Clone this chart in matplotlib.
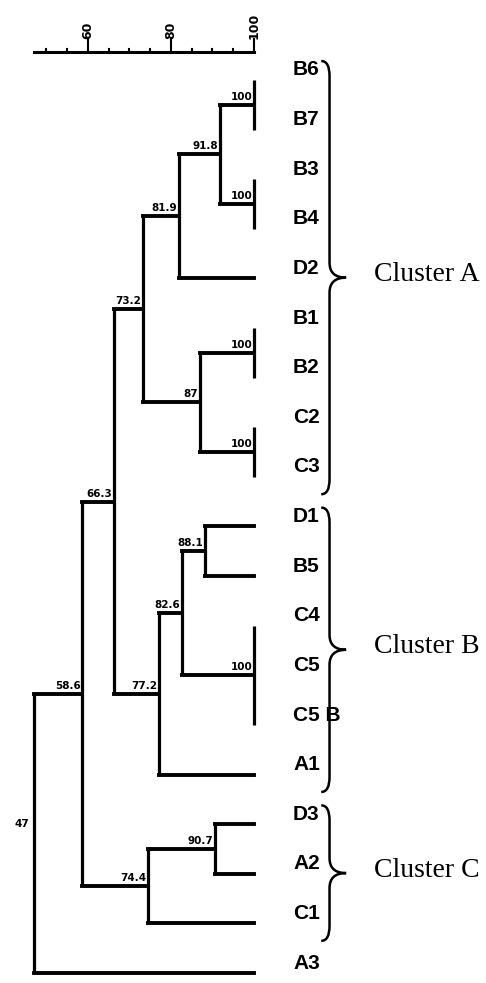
import matplotlib.pyplot as plt
from matplotlib.path import Path
from matplotlib.patches import PathPatch

# leaf order, top to bottom
leaves = ['B6', 'B7', 'B3', 'B4', 'D2', 'B1', 'B2', 'C2', 'C3',
          'D1', 'B5', 'C4', 'C5', 'C5 B', 'A1', 'D3', 'A2', 'C1', 'A3']

# internal nodes: children and similarity (%)
node_names = ['n1', 'n2', 'n3', 'n4', 'n5', 'n6', 'n7', 'n8', 'n9',
              'n10', 'n11', 'n12', 'n13', 'n14', 'n15', 'n16', 'n17']
node_children = [['B6', 'B7'], ['B3', 'B4'], ['n1', 'n2'], ['n3', 'D2'],
                 ['B1', 'B2'], ['C2', 'C3'], ['n5', 'n6'], ['n4', 'n7'],
                 ['D1', 'B5'], ['C4', 'C5', 'C5 B'], ['n9', 'n10'], ['n11', 'A1'],
                 ['n8', 'n12'], ['D3', 'A2'], ['n14', 'C1'], ['n13', 'n15'],
                 ['n16', 'A3']]
node_sim = [100, 100, 91.8, 81.9, 100, 100, 87, 73.2, 88.1,
            100, 82.6, 77.2, 66.3, 90.7, 74.4, 58.6, 47]

# clusters: name, first leaf, last leaf
cluster_names = ['Cluster A', 'Cluster B', 'Cluster C']
cluster_first = ['B6', 'D1', 'D3']
cluster_last = ['C3', 'A1', 'C1']

scale_ticks = [50, 55, 60, 65, 70, 75, 80, 85, 90, 95, 100]
scale_labels = [60, 80, 100]

fig = plt.figure(figsize=(4.86, 9.83), dpi=100)
ax = fig.add_axes([0, 0, 1, 1])
ax.set_xlim(38.8, 155.9)
ax.set_ylim(18.2, -1.61)
ax.axis('off')

lw = 2.3
pos_x = {}
pos_y = {}
for i, name in enumerate(leaves):
    pos_x[name] = 100
    pos_y[name] = i

for name, kids, sim in zip(node_names, node_children, node_sim):
    ys = [pos_y[k] for k in kids]
    pos_x[name] = sim
    pos_y[name] = (min(ys) + max(ys)) / 2
    ax.plot([sim, sim], [min(ys), max(ys)], color='black', lw=lw,
            solid_capstyle='butt')
    for k in kids:
        ax.plot([sim, pos_x[k]], [pos_y[k], pos_y[k]], color='black', lw=lw + 0.5,
                solid_capstyle='projecting')

# node similarity labels
for name, sim in zip(node_names, node_sim):
    txt = f'{sim:g}'
    if name == 'n17':
        ax.text(sim - 1.2, pos_y[name] - 0.2, txt, ha='right', va='center',
                fontsize=7.5, fontweight='bold')
    else:
        ax.text(sim - 0.4, pos_y[name] - 0.06, txt, ha='right', va='bottom',
                fontsize=7.5, fontweight='bold')

# leaf labels
for i, name in enumerate(leaves):
    ax.text(109.4, i - 0.2, name, ha='left', va='center', fontsize=15,
            fontweight='bold', family='Liberation Sans')

# braces and cluster names
def brace(x0, ytop, ybot, color='black'):
    xb = x0 + 2.0
    xc = x0 + 6.0
    r = 0.3
    ytip = (ytop + ybot) / 2
    verts = [(x0, ytop), (xb, ytop), (xb, ytop + r),
             (xb, ytip - r), (xb, ytip), (xc, ytip),
             (xb, ytip), (xb, ytip + r),
             (xb, ybot - r), (xb, ybot), (x0, ybot)]
    codes = [Path.MOVETO, Path.CURVE3, Path.CURVE3,
             Path.LINETO, Path.CURVE3, Path.CURVE3,
             Path.CURVE3, Path.CURVE3,
             Path.LINETO, Path.CURVE3, Path.CURVE3]
    ax.add_patch(PathPatch(Path(verts, codes), fill=False, lw=1.8, color=color))
    return xc, ytip

for cname, first, last in zip(cluster_names, cluster_first, cluster_last):
    ytop = leaves.index(first) - 0.38
    ybot = leaves.index(last) + 0.35
    xc, ytip = brace(116.2, ytop, ybot)
    ax.text(xc + 6.8, ytip - 0.06, cname, ha='left', va='center', fontsize=20,
            family='Liberation Serif')

# scale bar
ys = -0.565
ax.plot([47, 100], [ys, ys], color='black', lw=2.2)
for t in scale_ticks:
    if t in scale_labels:
        ax.plot([t, t], [ys, ys - 0.25], color='black', lw=1.5)
        ax.text(t, ys - 0.25, str(t), rotation=90, ha='center', va='bottom',
                fontsize=9, fontweight='bold')
    else:
        ax.plot([t, t], [ys, ys - 0.06], color='black', lw=1.5)

plt.savefig('out.png', dpi=100)
